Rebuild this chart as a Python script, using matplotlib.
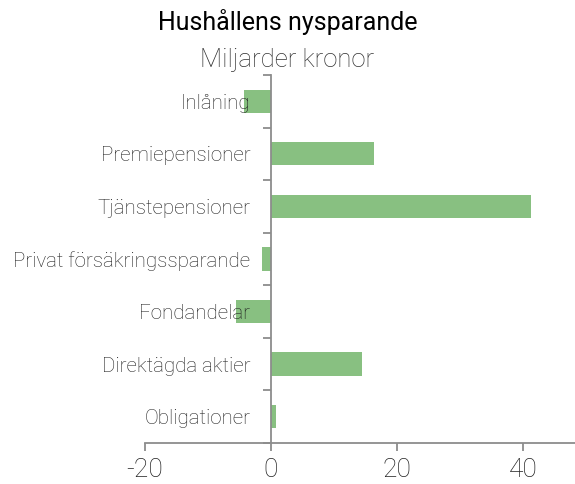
import numpy as np
import matplotlib.pyplot as plt

kategorier = ["Inlåning", "Premiepensioner", "Tjänstepensioner",
              "Privat försäkringssparande", "Fondandelar",
              "Direktägda aktier", "Obligationer"]
varden = [-4.3, 16.4, 41.2, -1.4, -5.5, 14.4, 0.8]
x_ticks = [-20, 0, 20, 40]

plt.rcParams['font.family'] = ['Roboto', 'DejaVu Sans']

fig = plt.figure(figsize=(5.75, 4.84), dpi=100)
ax = fig.add_axes([0.252, 0.085, 0.748, 0.76])

y = np.arange(len(kategorier))
ax.barh(y, varden, height=0.44, color='#88c081', zorder=1)

ax.set_xlim(-20, 48.2)
ax.set_ylim(len(kategorier) - 0.5, -0.5)

grå = '#8c8c8c'
for s in ['top', 'right']:
    ax.spines[s].set_visible(False)
ax.spines['left'].set_position(('data', 0))
ax.spines['left'].set_color(grå)
ax.spines['bottom'].set_color(grå)
ax.spines['left'].set_linewidth(1.3)
ax.spines['bottom'].set_linewidth(1.3)
ax.spines['left'].set_zorder(3)

# kategorigränser som stora streck, etiketter på mitten
ax.set_yticks(np.arange(-0.5, len(kategorier), 1.0))
ax.set_yticklabels([])
ax.set_yticks(y, minor=True)
ax.set_yticklabels(kategorier, minor=True, fontsize=14.8, fontweight='light',
                   color='#222222')
ax.tick_params(axis='y', which='major', length=6, width=1.3, color=grå)
ax.tick_params(axis='y', which='minor', length=0, pad=15)

ax.set_xticks(x_ticks)
ax.set_xticklabels([str(v) for v in x_ticks], fontsize=19, fontweight='light',
                   color='#222222')
ax.tick_params(axis='x', length=6, width=1.3, color=grå, pad=5)

fig.text(0.5, 0.955, "Hushållens nysparande", ha='center', va='center',
         fontsize=18, fontweight='normal', color='black')
fig.text(0.5, 0.876, "Miljarder kronor", ha='center', va='center',
         fontsize=18.5, fontweight='light', color='#333333')

fig.savefig('out.png', dpi=100)
